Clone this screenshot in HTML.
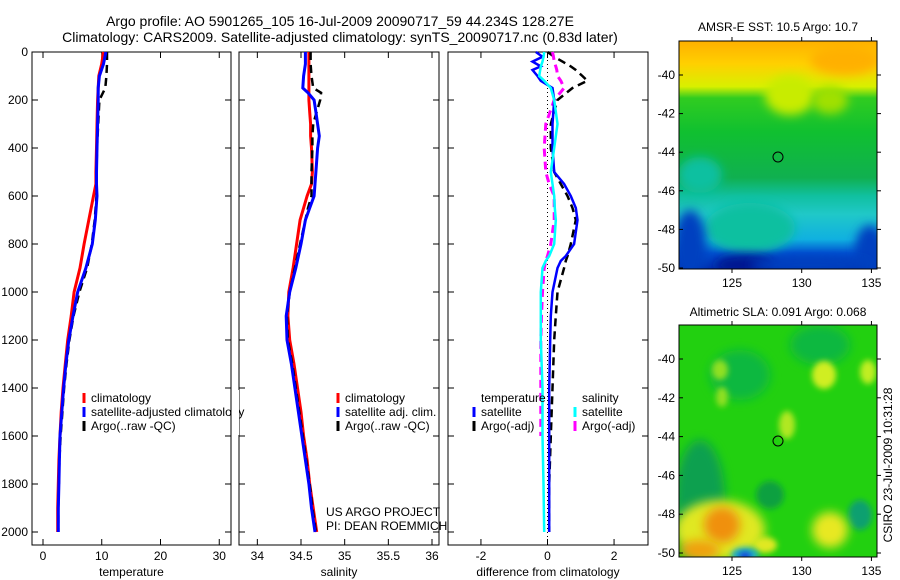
<!DOCTYPE html>
<html><head><meta charset="utf-8"><style>
body{margin:0;background:#fff;}
svg{display:block;font-family:"Liberation Sans",sans-serif;}
</style></head><body>
<svg id="c" width="900" height="580" xmlns="http://www.w3.org/2000/svg">
<defs>
<filter id="bl" x="-50%" y="-50%" width="200%" height="200%"><feGaussianBlur stdDeviation="5"/></filter>
<filter id="bl2" x="-50%" y="-50%" width="200%" height="200%"><feGaussianBlur stdDeviation="3"/></filter>
<linearGradient id="g1" x1="0" y1="0" x2="0" y2="1">
<stop offset="0" stop-color="#ffb000"/><stop offset="0.1" stop-color="#ffd000"/><stop offset="0.2" stop-color="#d8f000"/><stop offset="0.25" stop-color="#30cc20"/><stop offset="0.4" stop-color="#10c030"/><stop offset="0.6" stop-color="#10b050"/><stop offset="0.68" stop-color="#10c0a0"/><stop offset="0.76" stop-color="#20c8c8"/><stop offset="0.87" stop-color="#10b0e0"/><stop offset="0.93" stop-color="#0050d0"/><stop offset="1" stop-color="#0030b0"/>
</linearGradient>
<clipPath id="m1c"><rect x="679" y="41" width="198" height="228"/></clipPath>
<clipPath id="m2c"><rect x="679" y="325" width="198" height="232"/></clipPath>
</defs>
<text x="340" y="26" text-anchor="middle" font-size="14">Argo profile: AO 5901265_105 16-Jul-2009 20090717_59 44.234S 128.27E</text>
<text x="340" y="42" text-anchor="middle" font-size="14">Climatology: CARS2009. Satellite-adjusted climatology: synTS_20090717.nc (0.83d later)</text>

<g id="p1"></g>
<g id="p2"></g>
<g id="p3"></g>

<g>
<text x="778" y="31" text-anchor="middle" font-size="12">AMSR-E SST: 10.5 Argo: 10.7</text>
<g clip-path="url(#m1c)">
<rect x="679" y="41" width="198" height="228" fill="url(#g1)"/>
<ellipse cx="790" cy="95" rx="25" ry="20" fill="#c8ec00" filter="url(#bl)"/>
<ellipse cx="830" cy="100" rx="18" ry="14" fill="#a0e000" filter="url(#bl)"/>
<ellipse cx="845" cy="60" rx="35" ry="15" fill="#ffb000" filter="url(#bl)"/>
<ellipse cx="700" cy="175" rx="22" ry="18" fill="#10c0a0" filter="url(#bl)"/>
<ellipse cx="750" cy="228" rx="45" ry="25" fill="#10c0a0" filter="url(#bl)"/>
<ellipse cx="690" cy="245" rx="16" ry="35" fill="#0040c0" filter="url(#bl)"/>
<ellipse cx="870" cy="250" rx="15" ry="25" fill="#0040c0" filter="url(#bl)"/>
<ellipse cx="745" cy="265" rx="30" ry="10" fill="#001890" filter="url(#bl)"/>
<ellipse cx="810" cy="265" rx="60" ry="8" fill="#0040c0" filter="url(#bl)"/>
</g>
<rect x="679" y="41" width="198" height="228" fill="none" stroke="#000"/>
<circle cx="778" cy="157" r="5" fill="none" stroke="#000"/>
<g id="m1ax"></g>
</g>

<g>
<text x="778" y="316" text-anchor="middle" font-size="12">Altimetric SLA: 0.091 Argo: 0.068</text>
<g clip-path="url(#m2c)">
<rect x="679" y="325" width="198" height="232" fill="#22d010"/>
<ellipse cx="700" cy="500" rx="25" ry="60" fill="#10a050" filter="url(#bl)"/>
<ellipse cx="740" cy="375" rx="30" ry="25" fill="#10b840" filter="url(#bl)"/>
<ellipse cx="820" cy="345" rx="30" ry="20" fill="#10b840" filter="url(#bl)"/>
<ellipse cx="720" cy="370" rx="8" ry="10" fill="#90e020" filter="url(#bl2)"/>
<ellipse cx="722" cy="397" rx="6" ry="10" fill="#90e020" filter="url(#bl2)"/>
<ellipse cx="824" cy="375" rx="12" ry="14" fill="#d0ee20" filter="url(#bl2)"/>
<ellipse cx="868" cy="372" rx="8" ry="12" fill="#c0ee20" filter="url(#bl2)"/>
<ellipse cx="787" cy="425" rx="8" ry="14" fill="#b0e820" filter="url(#bl2)"/>
<ellipse cx="770" cy="495" rx="14" ry="14" fill="#10a040" filter="url(#bl2)"/>
<ellipse cx="860" cy="515" rx="12" ry="15" fill="#10a070" filter="url(#bl2)"/>
<ellipse cx="720" cy="530" rx="45" ry="30" fill="#e0e820" filter="url(#bl)"/>
<ellipse cx="722" cy="525" rx="18" ry="18" fill="#f09010" filter="url(#bl)"/>
<ellipse cx="700" cy="550" rx="20" ry="10" fill="#f0a010" filter="url(#bl)"/>
<ellipse cx="830" cy="530" rx="18" ry="18" fill="#e8e820" filter="url(#bl)"/>
<ellipse cx="765" cy="545" rx="12" ry="8" fill="#e0e820" filter="url(#bl2)"/>
<ellipse cx="745" cy="555" rx="14" ry="8" fill="#20b0c0" filter="url(#bl2)"/>
<ellipse cx="745" cy="556" rx="6" ry="4" fill="#1040e0" filter="url(#bl2)"/>
</g>
<rect x="679" y="325" width="198" height="232" fill="none" stroke="#000"/>
<circle cx="778" cy="441" r="5" fill="none" stroke="#000"/>
<g id="m2ax"></g>
</g>
<text transform="translate(892,465) rotate(-90)" text-anchor="middle" font-size="12">CSIRO 23-Jul-2009 10:31:28</text>
</svg>
<script>
const NS="http://www.w3.org/2000/svg";
// ---- data ----
const tDepth=[0,50,100,150,200,300,400,500,550,600,700,800,900,1000,1100,1200,1300,1400,1500,1600,1700,1800,1900,2000];
const tClim=[10.3,10.0,9.5,9.4,9.3,9.2,9.1,9.0,9.0,8.6,7.8,7.0,6.3,5.3,4.8,4.2,3.8,3.4,3.1,2.9,2.7,2.6,2.5,2.5];
const tSat=[10.7,10.3,9.6,9.4,9.4,9.3,9.2,9.1,9.1,9.2,8.9,8.4,7.3,5.9,5.1,4.4,3.9,3.5,3.2,2.9,2.8,2.7,2.6,2.6];
const tArgo=[10.9,10.9,10.8,10.6,9.6,9.4,9.2,9.1,9.1,9.1,8.8,8.3,7.5,6.2,5.2,4.5,4.0,3.6,3.3,3.0,2.8,2.7,2.6,2.6];
const sDepth=[0,50,100,150,170,200,250,300,350,400,500,550,600,650,700,800,900,1000,1100,1200,1300,1400,1500,1600,1700,1800,1900,2000];
const sClim=[34.59,34.59,34.59,34.59,34.59,34.59,34.60,34.61,34.61,34.62,34.63,34.62,34.57,34.53,34.49,34.45,34.41,34.36,34.35,34.37,34.42,34.46,34.50,34.53,34.57,34.60,34.64,34.68];
const sSat=[34.55,34.55,34.53,34.52,34.58,34.65,34.67,34.69,34.71,34.69,34.67,34.66,34.65,34.60,34.55,34.50,34.44,34.37,34.33,34.34,34.39,34.43,34.47,34.51,34.55,34.59,34.62,34.66];
const sArgo=[34.61,34.61,34.62,34.64,34.73,34.72,34.68,34.64,34.63,34.63,34.62,34.62,34.62,34.58,34.55,34.49,34.43,34.37,34.34,34.35,34.40,34.44,34.48,34.52,34.56,34.60,34.63,34.67];
const dDepth=[0,20,40,60,75,100,120,150,200,300,400,500,550,600,650,700,800,850,870,900,1000,1100,1200,1400,1600,1800,2000];
const dTSat=[-0.35,-0.15,-0.45,-0.2,-0.45,-0.3,-0.2,0.15,0.2,0.15,0.15,0.2,0.5,0.7,0.85,0.9,0.8,0.55,0.4,0.3,0.15,0.1,0.08,0.05,0.05,0.05,0.05];
const dTArgo=[0,0.2,0.45,0.7,0.85,1.05,1.2,0.75,0.3,0.1,0.1,0.2,0.4,0.6,0.75,0.85,0.7,0.6,0.55,0.5,0.3,0.25,0.2,0.15,0.1,0.05,0.05];
const dSSat=[-0.1,-0.12,-0.15,-0.2,-0.22,-0.25,-0.1,0.1,0.2,0.3,0.2,0.1,0.15,0.2,0.22,0.25,0.2,0.05,-0.05,-0.15,-0.2,-0.2,-0.2,-0.15,-0.15,-0.12,-0.1];
const dSArgo=[0.15,0.18,0.2,0.25,0.28,0.3,0.4,0.5,0.2,-0.05,-0.1,-0.05,0.05,0.2,0.2,0.2,0.1,0.0,-0.05,-0.1,-0.15,-0.18,-0.2,-0.2,-0.2,null,null];
const tTicks=[0,10,20,30], sTicks=[34,34.5,35,35.5,36], dTicks=[-2,0,2], zTicks=[0,200,400,600,800,1000,1200,1400,1600,1800,2000];
const latTicks=[-40,-42,-44,-46,-48,-50], lonTicks=[125,130,135];
// ---- helpers ----
const svg=document.getElementById('c');
const Y0=52, YB=545; const yz=d=>Y0+d*0.24;
function mk(tag,attrs,parent){const e=document.createElementNS(NS,tag);for(const k in attrs)e.setAttribute(k,attrs[k]);parent.appendChild(e);return e;}
function panel(g,x0,x1,xmin,xmax,ticks,label,showY){
  const xs=v=>x0+(v-xmin)/(xmax-xmin)*(x1-x0);
  mk('rect',{x:x0,y:Y0,width:x1-x0,height:YB-Y0,fill:'none',stroke:'#000'},g);
  ticks.forEach(t=>{const x=xs(t);
    mk('line',{x1:x,x2:x,y1:YB,y2:YB-6,stroke:'#000'},g);
    mk('line',{x1:x,x2:x,y1:Y0,y2:Y0+6,stroke:'#000'},g);
    const tx=mk('text',{x:x,y:YB+15,'text-anchor':'middle','font-size':12},g);tx.textContent=String(t);
    
    
  });
  zTicks.forEach(z=>{const y=yz(z);
    mk('line',{x1:x0,x2:x0+6,y1:y,y2:y,stroke:'#000'},g);
    mk('line',{x1:x1,x2:x1-6,y1:y,y2:y,stroke:'#000'},g);
    if(showY){const tx=mk('text',{x:x0-4,y:y+4,'text-anchor':'end','font-size':12},g);tx.textContent=String(z);
      
      }
  });
  const lb=mk('text',{x:(x0+x1)/2,y:YB+31,'text-anchor':'middle','font-size':12},g);lb.textContent=label;
  
  
  return xs;
}
function line(g,xs,depths,vals,color,w,dash,name){
  let d='',pen=false;
  vals.forEach((v,i)=>{if(v===null){pen=false;return;}d+=(pen?'L':'M')+xs(v).toFixed(1)+','+yz(depths[i]).toFixed(1);pen=true;});
  const p=mk('path',{d:d,fill:'none',stroke:color,'stroke-width':w},g);
  if(dash)p.setAttribute('stroke-dasharray',dash);
  
  
}
function legend(g,x,y,items){
  items.forEach((it,i)=>{
    const l=mk('line',{x1:x,x2:x,y1:y+i*14-9,y2:y+i*14+1,stroke:it[1],'stroke-width':3},g);
    
    
    const t=mk('text',{x:x+7,y:y+i*14,'font-size':12},g);t.textContent=it[0];
    
    
  });
}
// panel 1
const g1=document.getElementById('p1');
const xt=panel(g1,32,231,-1.87,32,tTicks,'temperature',true);
line(g1,xt,tDepth,tClim,'#f00',3,null,'temp-climatology-line');
line(g1,xt,tDepth,tArgo,'#000',2.5,'8,5','temp-argo-line');
line(g1,xt,tDepth,tSat,'#00f',3,null,'temp-satellite-line');
legend(g1,84,402,[['climatology','#f00'],['satellite-adjusted climatology','#00f'],['Argo(..raw -QC)','#000']]);
mk('rect',{x:232,y:390,width:7,height:45,fill:'#fff'},svg);
// panel 2
const g2=document.getElementById('p2');
const xsl=panel(g2,239,439,33.79,36.08,sTicks,'salinity',false);
line(g2,xsl,sDepth,sClim,'#f00',3,null,'sal-climatology-line');
line(g2,xsl,sDepth,sArgo,'#000',2.5,'8,5','sal-argo-line');
line(g2,xsl,sDepth,sSat,'#00f',3,null,'sal-satellite-line');
legend(g2,338,402,[['climatology','#f00'],['satellite adj. clim.','#00f'],['Argo(..raw -QC)','#000']]);
const u1=mk('text',{x:326,y:516,'font-size':12},g2);u1.textContent='US ARGO PROJECT';
const u2=mk('text',{x:326,y:530,'font-size':12},g2);u2.textContent='PI: DEAN ROEMMICH';
// panel 3
const g3=document.getElementById('p3');
const xd=panel(g3,448,648,-2.99,3.02,dTicks,'difference from climatology',false);
const z=mk('line',{x1:xd(0),x2:xd(0),y1:Y0,y2:YB,stroke:'#000','stroke-dasharray':'1,3'},g3);


line(g3,xd,dDepth,dTArgo,'#000',2.5,'8,5','diff-temp-argo-line');
line(g3,xd,dDepth,dSArgo,'#f0f',3,'8,5','diff-sal-argo-line');
line(g3,xd,dDepth,dTSat,'#00f',2.5,null,'diff-temp-satellite-line');
line(g3,xd,dDepth,dSSat,'#0ff',2.5,null,'diff-sal-satellite-line');
const h1=mk('text',{x:481,y:402,'font-size':12},g3);h1.textContent='temperature';
const h2=mk('text',{x:582,y:402,'font-size':12},g3);h2.textContent='salinity';
legend(g3,474,416,[['satellite','#00f'],['Argo(-adj)','#000']]);
legend(g3,575,416,[['satellite','#0ff'],['Argo(-adj)','#f0f']]);
// map axes
function mapAxes(id,x0,x1,y0,y1,latTop,latBot,lonL,lonR){
  const g=document.getElementById(id);
  const lx=v=>x0+(v-lonL)/(lonR-lonL)*(x1-x0), ly=v=>latTop+(v+40)/(-10)*(latBot-latTop);
  latTicks.forEach(v=>{const y=ly(v);
    mk('line',{x1:x0,x2:x0+4,y1:y,y2:y,stroke:'#000'},g);mk('line',{x1:x1,x2:x1+4,y1:y,y2:y,stroke:'#000'},g);
    const t=mk('text',{x:x0-4,y:y+4,'text-anchor':'end','font-size':12},g);t.textContent=String(v);
    
    });
  lonTicks.forEach(v=>{const x=lx(v);
    mk('line',{x1:x,x2:x,y1:y0,y2:y0-4,stroke:'#000'},g);mk('line',{x1:x,x2:x,y1:y1,y2:y1+4,stroke:'#000'},g);
    const t=mk('text',{x:x,y:y1+18,'text-anchor':'middle','font-size':12},g);t.textContent=String(v);
    
    });
}
mapAxes('m1ax',679,877,41,269,75,268,121.2,135.4);
mapAxes('m2ax',679,877,325,557,359,553,121.2,135.4);
</script>
</body></html>
